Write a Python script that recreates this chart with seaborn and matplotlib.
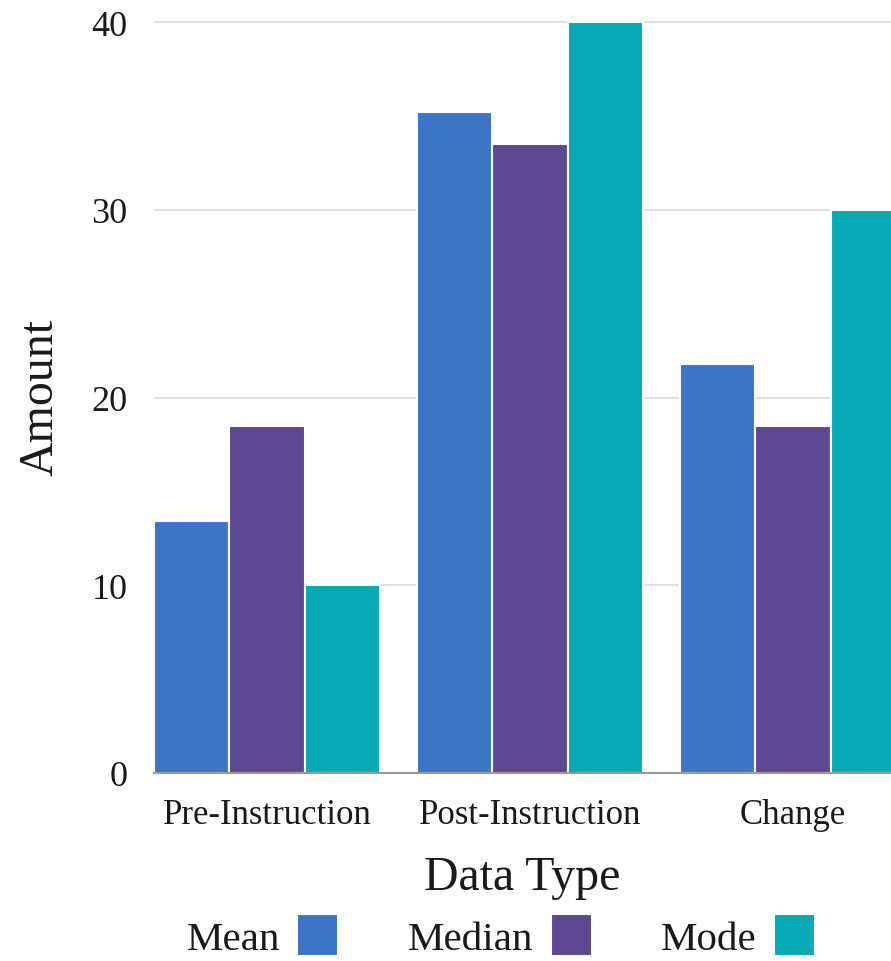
import matplotlib
matplotlib.use("Agg")
import matplotlib.pyplot as plt
import seaborn as sns
import pandas as pd

categories = ["Pre-Instruction", "Post-Instruction", "Change"]
series = ["Mean", "Median", "Mode"]
mean_vals = [13.4, 35.2, 21.8]
median_vals = [18.5, 33.5, 18.5]
mode_vals = [10, 40, 30]
colors = ["#3b76c6", "#5f4892", "#07a9b4"]

rows = []
for name, vals in zip(series, [mean_vals, median_vals, mode_vals]):
    for c, v in zip(categories, vals):
        rows.append({"Data Type": c, "Series": name, "Amount": v})
df = pd.DataFrame(rows)

sns.set_theme(style="white")
plt.rcParams["font.family"] = ["Liberation Serif", "DejaVu Serif"]
plt.rcParams["text.color"] = "#1a1a1a"

fig = plt.figure(figsize=(8.91, 9.62), dpi=100)
ax = fig.add_axes([154/891, 188/962, 1 - 154/891, (774-20)/962])

sns.barplot(data=df, x="Data Type", y="Amount", hue="Series", order=categories,
            hue_order=series, palette=colors, width=0.86, edgecolor="white",
            linewidth=1.5, saturation=1, ax=ax, legend=True)

ax.set_xlim(-0.43, 2.373)
ax.set_ylim(0, 40.16)
ax.set_yticks([0, 10, 20, 30, 40])
ax.yaxis.grid(True, color="#d9d9d9", linewidth=1.2)
ax.set_axisbelow(True)
for s in ["top", "right", "left"]:
    ax.spines[s].set_visible(False)
ax.spines["bottom"].set_color("#9a9a9a")
ax.spines["bottom"].set_linewidth(1.5)
ax.tick_params(axis="both", length=0, colors="#1a1a1a")
ax.tick_params(axis="y", labelsize=26, pad=19)
ax.tick_params(axis="x", labelsize=25, pad=18)
ax.set_ylabel("Amount", fontsize=34.5, labelpad=21, color="#1a1a1a")
ax.set_xlabel("Data Type", fontsize=34.5, labelpad=17, color="#1a1a1a")

handles, labels = ax.get_legend_handles_labels()
ax.get_legend().remove()
fig.legend(handles, labels, loc="center", bbox_to_anchor=(0.562, 0.026), ncol=3,
           markerfirst=False, frameon=False, fontsize=29.5, handlelength=1.0,
           handleheight=1.2, columnspacing=1.7, handletextpad=0.42,
           borderpad=0.0)

fig.savefig("out.png", dpi=100)
